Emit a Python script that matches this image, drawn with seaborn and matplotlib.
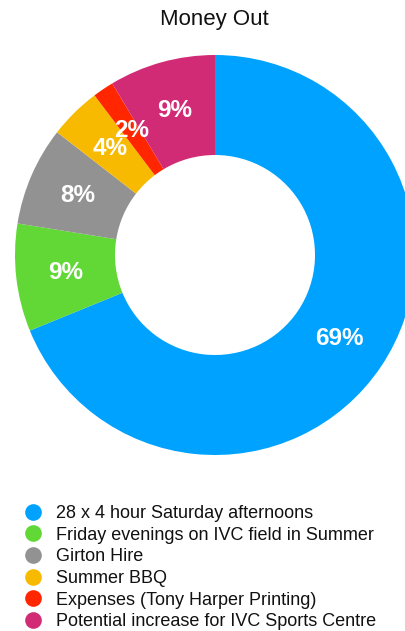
import matplotlib
matplotlib.use("Agg")
import matplotlib.pyplot as plt
from matplotlib.lines import Line2D
import seaborn as sns

# data (share of spending, %)
categories = [
    "28 x 4 hour Saturday afternoons",
    "Friday evenings on IVC field in Summer",
    "Girton Hire",
    "Summer BBQ",
    "Expenses (Tony Harper Printing)",
    "Potential increase for IVC Sports Centre",
]
values = [68.9, 8.7, 8.0, 4.2, 1.7, 8.6]
colors = ["#00A2FF", "#61D836", "#929292", "#F8BA00", "#FF2600", "#D22B75"]

sns.set_theme(style="white")
plt.rcParams["font.family"] = ["Liberation Sans", "DejaVu Sans"]

W, H = 406, 631
fig = plt.figure(figsize=(W / 100, H / 100), dpi=100)

# pie: centre at (215, 255) px, radius 200 px
cx, cy, r = 215, 255, 200
ax = fig.add_axes([(cx - r) / W, (H - cy - r) / H, 2 * r / W, 2 * r / H])
palette = sns.color_palette(colors)

wedges, texts, autotexts = ax.pie(
    values,
    colors=palette,
    startangle=90,
    counterclock=False,
    radius=1.0,
    autopct="%.0f%%",
    pctdistance=0.75,
    wedgeprops=dict(width=0.5, edgecolor="none"),
    textprops=dict(color="white", fontsize=17.5, fontweight="bold"),
)
ax.set_xlim(-1, 1)
ax.set_ylim(-1, 1)
ax.set_aspect("equal")
ax.axis("off")

fig.text(214 / W, 1 - 20 / H, "Money Out", ha="center", va="center",
         fontsize=16, color="#111111")

handles = [Line2D([0], [0], marker="o", linestyle="none", markersize=12,
                  markerfacecolor=c, markeredgecolor="none") for c in colors]
fig.legend(handles, categories, loc="upper left",
           bbox_to_anchor=(24 / W, 1 - 505 / H),
           frameon=False, fontsize=13, handlelength=1.0, handletextpad=0.78,
           labelspacing=0.26, borderaxespad=0, borderpad=0,
           labelcolor="#111111")

fig.savefig("out.png", dpi=100)
